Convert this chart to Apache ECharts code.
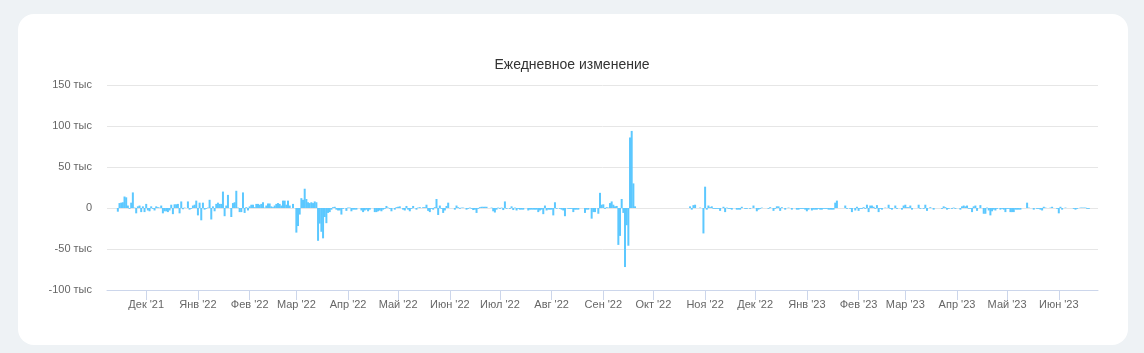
<!DOCTYPE html>
<html lang="ru">
<head>
<meta charset="utf-8">
<title>Ежедневное изменение</title>
<script src="https://cdn.jsdelivr.net/npm/echarts@6/dist/echarts.min.js"></script>
<style>
  html, body { margin: 0; padding: 0; background: #eef2f5; }
  #card { position: absolute; left: 18px; top: 14px; width: 1110px; height: 331px; background: #fff; border-radius: 16px; }
  #chart { position: absolute; left: 0; top: 0; width: 1144px; height: 353px; }
</style>
</head>
<body>
<div id="card"></div>
<div id="chart"></div>
<script>
// daily change, thousands; one array per month, index 0 = day 1, null = no data
const nov21 = [null, null, null, null, null, null, null, null, null, null, null, null, null,
  -4.5, 6, 6.5, 7, 14, 13, 3, -1, 6.5, 19, 0.5, -6.5, 2, 3, -5, 2, -5];
const dec21 = [5, -3, -4, 2, -1, -3, 2, 1, 0.5, 3, -6.5, -4, -4, -5, -3, 4, -7.5, 4.5, 4.5, 5,
  -6.5, 8, -1.5, 0.5, 0, 8, -2, -1, 3, 4, 9];
const jan22 = [-9, 6.5, -15, 6.5, -2, -1, 0.5, 10, -14, 2, -4, 5, 6.5, 5, 5, 20, -10, 3, 16, 0,
  -11, 6, 7, 21, 0.5, -5, -5, 19, -6, 1, -3];
const feb22 = [2, 4, 4, 1, 5, 5, 4, 5, 7, 0.5, 3, 5.5, 5.5, 2, 1, 3, 5, 6, 5, 3,
  9, 9, 4, 9, 3, 0, 5, 0];
const mar22 = [-30, -22, -8, 12, 10, 23.5, 11, 7, 6, 7, 6, 8, 7, -40, -19, -29, -37, -11, -18.5, -6,
  -5, -2, 1, 1.5, -2, -3, -3, -8, -1, 0, -3.5];
const apr22 = [0.5, 0.5, -4, -2, -2, -2, 0, 0, -3, -5, -3, -2, -4, -2, 0, 0, -5, -5, -4, -3,
  -4, -2, -1, 2.5, 0.5, -1, -4, 0, -2, 1];
const may22 = [1.5, 2, 0, -2, -3, 2.5, -2, -4, -1, 2.5, 0, -2, 0.5, 1, 0, 1, 1, 4, -3.5, -5,
  -1, -2, 1, 11, -8.5, 3, -1, -6, -3, 2.5, 6.5];
const jun22 = [0, 0, 0, -2, 3, 1, -1, 0.5, 0.5, 0, -2, -1, 0.5, -1, -2.5, -2, -6, -1, 1, 1.5,
  1.5, 1.5, 1.5, 0, 0, 0.5, -4, -5.5, -2, 0.5];
const jul22 = [-1, 0.5, -2.5, 8, -1, 0, -1, 2, -2.5, 0.5, -3, -1, -2, -2, -2, 0, 0, -3, -2, -2,
  -2, -2, -2, -5, -3, -2, -7.5, 3, -3, -2, -2];
const aug22 = [-2, -9, 7, -1, 0, -1, -2, -3, -10, 0, -1, -1, -1, -5, -2, -2, -2, 0, 0, 0,
  -6, -2, -2, 0, -13, -5, -5, 0, -7, 18.5, 4];
const sep22 = [4.5, -1, 1, 0.5, 6, 8, 4, 2, 2.5, -45, -34, 11, -6, -72, -21, -46, 86, 94, 30, 2];
const oct22 = [null, null, null, null, null, null, null, null, null, null, null, null, null, null,
  null, null, null, null, null, null, null, null, 2, -2, 3.5, 4, null, null, 0.5, null, -31];
const nov22 = [26, -2, 3, 1, 2, -1, -1, -1, -1, -3.5, 0, 1.5, -5, 0.5, -1, -1, -2, 0, null, -2,
  -2, -2, 1.5, 0, -1, -1, 0, -1, null, 3];
const dec22 = [0, -4, -2, -1, 0.5, 0, 0, null, -1, 1, null, -3.5, -1, 2, 2, -3.5, 1, null, -2, 0,
  0.5, 0, -2, 0, null, -2, -2, -1, -1, -1, -2];
const jan23 = [-4, -2, 0, -3, -2, -2, -2, -1, -2, -2, -1, -1, -1, -2, -2, -2, -2, 6.5, 9, 0,
  0, 0, 0, 3, -1, 0, -1, -5, 0, -3, 1.5];
const feb23 = [-3.5, -1, -1, 1, -1, 4, -5, 3, 3, 1.5, -1, 3.5, -5, -1, -2, 0, 0.5, 0, 4, -1,
  -2, 0, 3, -1, 0, 0, -2, 3];
const mar23 = [4, 1, 1, 3, -2, 0, 0, 0, 4, -1, 0, -1, 4, -3.5, 0, 1, 0, -2, 0, null,
  0, 0, -1, 2, 1, -2, -1, 0, -1, 0.5, -1];
const apr23 = [0, 0, -2, 2, 3, 2, 3, -1, -1, -5, 2, 3, -3.5, 0, 3.5, 0, -7, -7, 0.5, -3,
  -9, -4, -2, -3, -1, 0, -2, -1, -2, -5];
const may23 = [-1, -1, -5, -5, -5, -2, -2, -2, -2, 0, 0, null, 6.5, 0.5, 0, 0, -2, 0, -1, -1,
  -2, -3, 1.5, 0.5, 0, 0, 0.5, 1.5, 0, 0, -1];
const jun23 = [-6.5, 1.5, -2, 0, 0.5, 0, null, null, null, -1, -2, -1, 0, 0.5, 0.5, 0.5, 0.5, -1, -1];

const monthly = {
  '2021-11': nov21, '2021-12': dec21,
  '2022-01': jan22, '2022-02': feb22, '2022-03': mar22, '2022-04': apr22, '2022-05': may22,
  '2022-06': jun22, '2022-07': jul22, '2022-08': aug22, '2022-09': sep22, '2022-10': oct22,
  '2022-11': nov22, '2022-12': dec22,
  '2023-01': jan23, '2023-02': feb23, '2023-03': mar23, '2023-04': apr23, '2023-05': may23,
  '2023-06': jun23
};

const monthNames = ['Янв', 'Фев', 'Мар', 'Апр', 'Май', 'Июн', 'Июл', 'Авг', 'Сен', 'Окт', 'Ноя', 'Дек'];
const yTicks = [-100, -50, 0, 50, 100, 150];

// axis runs a bit past the data on both sides
const axisStart = Date.UTC(2021, 10, 8);
const axisEnd = Date.UTC(2023, 5, 24);

const days = [];
const values = [];
for (let t = axisStart; t <= axisEnd; t += 86400000) {
  const d = new Date(t);
  const key = d.getUTCFullYear() + '-' + String(d.getUTCMonth() + 1).padStart(2, '0');
  const day = d.getUTCDate();
  days.push(key + '-' + String(day).padStart(2, '0'));
  const arr = monthly[key];
  const v = arr ? arr[day - 1] : undefined;
  values.push(v === undefined ? null : v);
}

const isMonthStart = (idx, val) => val.slice(8) === '01';
const font = '"Liberation Sans", Arial, Helvetica, sans-serif';

const chart = echarts.init(document.getElementById('chart'), null, { renderer: 'canvas' });
chart.setOption({
  backgroundColor: 'transparent',
  animation: false,
  textStyle: { fontFamily: font },
  title: {
    text: 'Ежедневное изменение',
    left: 'center',
    top: 53,
    textStyle: { fontFamily: font, fontSize: 14, fontWeight: 'normal', color: '#333333' }
  },
  grid: { left: 107, right: 46, top: 85, bottom: 63, containLabel: false },
  xAxis: {
    type: 'category',
    data: days,
    boundaryGap: true,
    axisLine: { onZero: false, lineStyle: { color: '#ccd6eb', width: 1 } },
    axisTick: { show: true, interval: isMonthStart, alignWithLabel: true, length: 10, lineStyle: { color: '#ccd6eb' } },
    axisLabel: {
      interval: isMonthStart,
      margin: 9,
      color: '#666666',
      fontSize: 11,
      fontFamily: font,
      formatter: (val) => monthNames[+val.slice(5, 7) - 1] + " '" + val.slice(2, 4)
    },
    splitLine: { show: false }
  },
  yAxis: {
    type: 'value',
    min: yTicks[0],
    max: yTicks[yTicks.length - 1],
    interval: 50,
    axisLine: { show: false },
    axisTick: { show: false },
    axisLabel: {
      margin: 15,
      padding: [3, 0, 0, 0],
      color: '#666666',
      fontSize: 11,
      fontFamily: font,
      formatter: (v) => (v === 0 ? '0' : v + ' тыс')
    },
    splitLine: { lineStyle: { color: '#e6e6e6', width: 1 } }
  },
  series: [{
    type: 'bar',
    data: values,
    barWidth: 2,
    itemStyle: { color: '#5cc8ff' },
    emphasis: { disabled: true }
  }]
});
</script>
</body>
</html>
